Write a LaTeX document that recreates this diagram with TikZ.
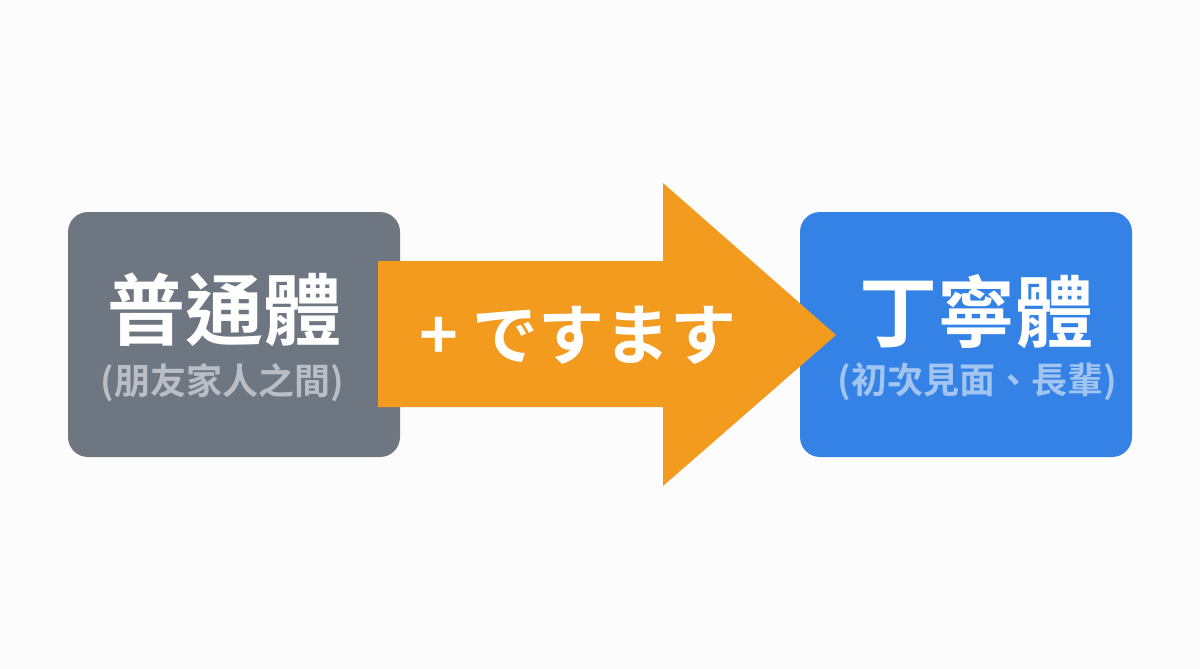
\documentclass[tikz,border=0pt]{standalone}
\usepackage{fontspec}
\newfontfamily\cjk{Noto Sans CJK TC}
\newfontfamily\cjkbold{Noto Sans CJK TC Bold}
\newfontfamily\jpbold{Noto Sans CJK JP Bold}
\definecolor{bg}{RGB}{252,252,252}
\definecolor{graybox}{RGB}{110,118,130}
\definecolor{bluebox}{RGB}{52,130,230}
\definecolor{orangearr}{RGB}{242,155,30}
\definecolor{graysub}{RGB}{186,190,196}
\definecolor{bluesub}{RGB}{162,196,240}
\tikzset{
  formbox/.style={rounded corners=10pt, minimum width=166pt, minimum height=122.5pt, inner sep=0pt},
  maintext/.style={text=white, font=\cjkbold\fontsize{39}{42}\selectfont, inner sep=0pt},
  subtext/.style={font=\cjkbold\fontsize{18}{20}\selectfont, inner sep=0pt},
  arrowtext/.style={text=white, font=\jpbold\fontsize{33}{36}\selectfont, inner sep=0pt}
}
\begin{document}
\begin{tikzpicture}[x=0.5pt,y=-0.5pt]
\fill[bg] (0,0) rectangle (1200,669);
\useasboundingbox (0,0) rectangle (1200,669);
\node[formbox, fill=graybox] (plain) at (234,334.5) {};
\node[formbox, fill=bluebox] (polite) at (966,334.5) {};
\node[maintext] (plainT) at (224,310) {普通體};
\node[subtext, text=graysub] (plainS) at (222,383) {(朋友家人之間)};
\node[maintext] (politeT) at (976,312) {丁寧體};
\node[subtext, text=bluesub] (politeS) at (977,382) {(初次見面、長輩)};
\coordinate (a1) at (378,261);
\coordinate (a2) at (663,261);
\coordinate (a3) at (663,183);
\coordinate (a4) at (836,335);
\coordinate (a5) at (663,486);
\coordinate (a6) at (663,407);
\coordinate (a7) at (378,407);
\fill[orangearr] (a1) -- (a2) -- (a3) -- (a4) -- (a5) -- (a6) -- (a7) -- cycle;
\node[arrowtext] (suffix) at (578,335) {+ ですます};
\end{tikzpicture}
\end{document}
